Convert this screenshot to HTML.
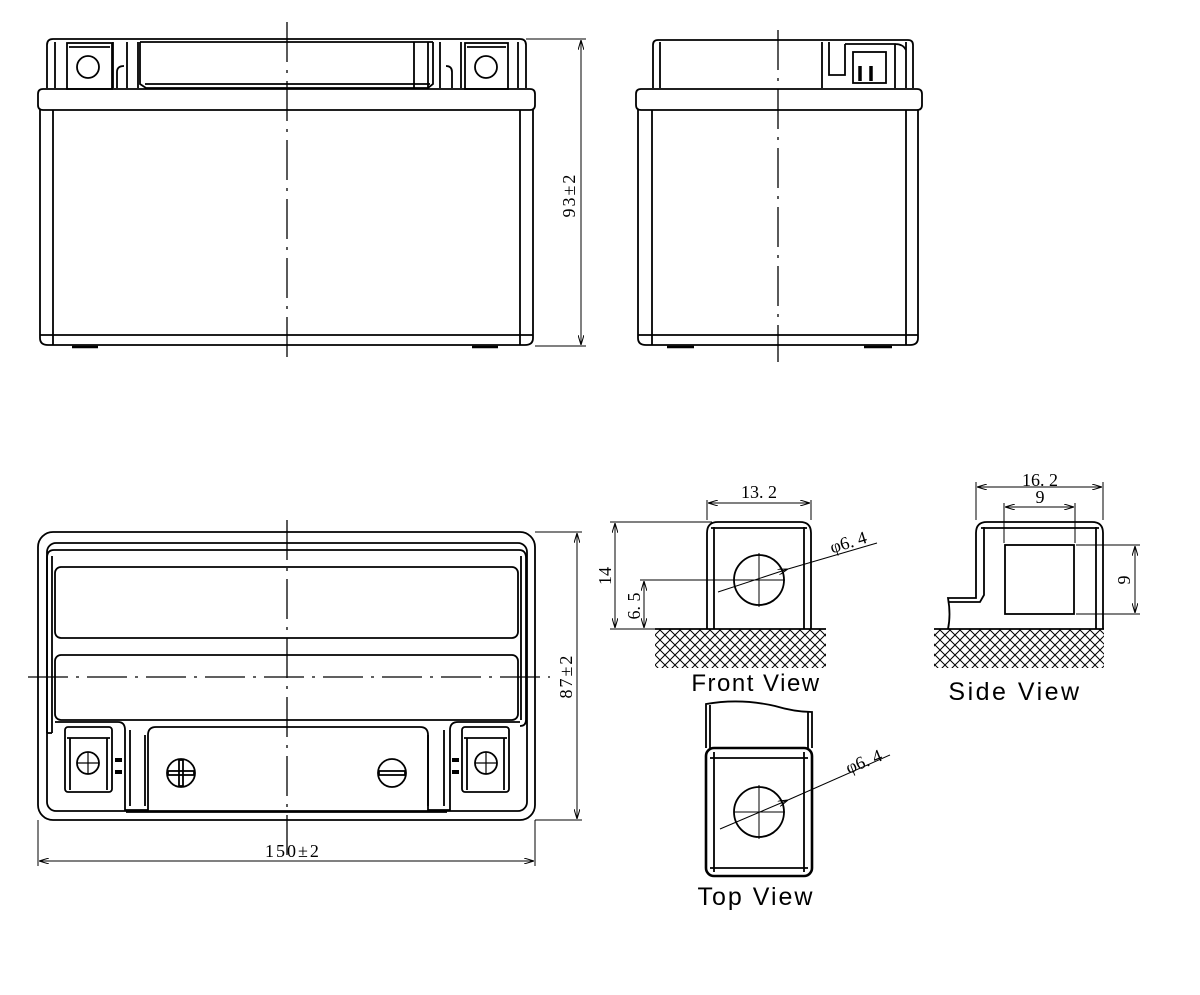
<!DOCTYPE html>
<html><head><meta charset="utf-8"><style>
html,body{margin:0;padding:0;background:#fff}
svg{display:block}
text{font-family:"Liberation Serif",serif;fill:#000}
.s{font-family:"Liberation Sans",sans-serif}
.d{font-size:18px;letter-spacing:2px}
</style></head><body>
<svg width="1200" height="995" viewBox="0 0 1200 995" xmlns="http://www.w3.org/2000/svg">
<defs>
<pattern id="h" width="10" height="10" patternUnits="userSpaceOnUse">
<path d="M0 0L10 10M10 0L0 10" stroke="#000" stroke-width="1"/>
</pattern>
<marker id="a" viewBox="0 0 10 6" refX="10" refY="3" markerWidth="10" markerHeight="6" orient="auto-start-reverse"><path d="M0 0L10 3L0 6" fill="none" stroke="#000" stroke-width="1"/></marker>
</defs>
<g fill="none" stroke="#000" stroke-width="1.8">
<!-- FRONT VIEW -->
<path d="M47 88V45Q47 39 53 39H520Q526 39 526 45V88"/>
<line x1="55" y1="42" x2="55" y2="88"/><line x1="518" y1="42" x2="518" y2="88"/>
<rect x="67" y="43" width="45" height="46"/><line x1="69" y1="47" x2="110" y2="47"/>
<circle cx="88" cy="67" r="11"/>
<rect x="465" y="43" width="43" height="46"/><line x1="467" y1="47" x2="506" y2="47"/>
<circle cx="486" cy="67" r="11"/>
<path d="M113 88V42M127 88V42M138 88V42"/>
<path d="M117 88V72Q117 66 124 66"/>
<path d="M414 88V42M440 88V42M461 88V42M428 42V88"/>
<path d="M452 88V72Q452 66 446 66"/>
<path d="M140 42V84L146 88H428L433 84V42"/><line x1="145" y1="84" x2="430" y2="84"/>
<line x1="140" y1="42" x2="433" y2="42"/>
<path d="M38 105V94Q38 89 43 89H530Q535 89 535 94V105Q535 110 530 110H43Q38 110 38 105Z"/>
<path d="M40 110V338Q40 345 48 345H525Q533 345 533 338V110"/>
<line x1="53" y1="110" x2="53" y2="345"/><line x1="520" y1="110" x2="520" y2="345"/>
<line x1="40" y1="335" x2="533" y2="335"/>
<path d="M72 347H98M472 347H498" stroke-width="2.5"/>
<!-- SIDE VIEW -->
<path d="M653 88V45Q653 40 658 40H908Q913 40 913 45V88"/>
<line x1="660" y1="42" x2="660" y2="88"/><line x1="906" y1="42" x2="906" y2="88"/>
<path d="M822 88V42M829 42V75H845V44"/>
<path d="M845 44H895V88M895 44Q903 44 906 50"/>
<rect x="853" y="52" width="33" height="31"/>
<path d="M860 81V66M871 81V66" stroke-width="3.5"/>
<path d="M636 105V94Q636 89 641 89H917Q922 89 922 94V105Q922 110 917 110H641Q636 110 636 105Z"/>
<path d="M638 110V338Q638 345 646 345H910Q918 345 918 338V110"/>
<line x1="652" y1="110" x2="652" y2="345"/><line x1="906" y1="110" x2="906" y2="345"/>
<line x1="638" y1="335" x2="918" y2="335"/>
<path d="M667 347H694M864 347H892" stroke-width="2.5"/>
<!-- TOP VIEW -->
<rect x="38" y="532" width="497" height="288" rx="15"/>
<rect x="47" y="543" width="480" height="268" rx="9"/>
<path d="M47 733V558Q47 550 54 550H519Q526 550 526 558V720Q526 726 520 726"/>
<path d="M52 733V556M521 556V720"/>
<line x1="47" y1="733" x2="52" y2="733"/>
<rect x="55" y="567" width="463" height="71" rx="6"/>
<rect x="55" y="655" width="463" height="65" rx="6"/>
<path d="M55 722H118Q125 722 125 730V810H148V735Q148 727 156 727H420Q428 727 428 735V810H450V730Q450 722 458 722H520"/>
<path d="M130 730V806M145 735V806M428 806V735M444 730V806"/>
<path d="M126 812H447"/>
<rect x="65" y="727" width="47" height="65" rx="3"/><line x1="67" y1="738" x2="110" y2="738"/>
<path d="M70 738V790M107 738V790"/>
<circle cx="88" cy="763" r="11"/><path d="M77 763H99M88 752V774" stroke-width="1.2"/>
<rect x="462" y="727" width="47" height="65" rx="3"/><line x1="464" y1="738" x2="507" y2="738"/>
<path d="M467 738V790M504 738V790"/>
<circle cx="486" cy="763" r="11"/><path d="M475 763H497M486 752V774" stroke-width="1.2"/>
<circle cx="181" cy="773" r="14"/><rect x="168" y="771" width="26" height="4"/><rect x="179" y="760" width="4" height="26"/>
<circle cx="392" cy="773" r="14"/><rect x="379" y="771" width="26" height="4"/>
<path d="M115 760H122M115 772H122M452 760H459M452 772H459" stroke-width="4"/>
</g>
<!-- center lines -->
<g stroke="#000" stroke-width="1.3" fill="none" stroke-dasharray="40 8 3 8">
<line x1="287" y1="22" x2="287" y2="362"/>
<line x1="778" y1="30" x2="778" y2="362"/>
<line x1="287" y1="520" x2="287" y2="860"/>
<line x1="28" y1="677" x2="550" y2="677"/>
</g>
<!-- dimensions -->
<g stroke="#000" stroke-width="1" fill="none">
<line x1="526" y1="39" x2="586" y2="39"/><line x1="535" y1="346" x2="586" y2="346"/>
<line x1="581" y1="40" x2="581" y2="345" marker-start="url(#a)" marker-end="url(#a)"/>
<line x1="535" y1="532" x2="582" y2="532"/><line x1="535" y1="820" x2="582" y2="820"/>
<line x1="577" y1="533" x2="577" y2="819" marker-start="url(#a)" marker-end="url(#a)"/>
<line x1="38" y1="820" x2="38" y2="866"/><line x1="535" y1="820" x2="535" y2="866"/>
<line x1="39" y1="861" x2="534" y2="861" marker-start="url(#a)" marker-end="url(#a)"/>
</g>
<text class="d" x="575" y="195" text-anchor="middle" transform="rotate(-90 575 195)">93±2</text>
<text class="d" x="572" y="676" text-anchor="middle" transform="rotate(-90 572 676)">87±2</text>
<text class="d" x="293" y="857" text-anchor="middle">150±2</text>
<!-- FRONT VIEW detail -->
<rect x="655" y="629" width="171" height="39" fill="url(#h)"/>
<g fill="none" stroke="#000" stroke-width="1.8">
<path d="M707 629V533Q707 522 718 522H800Q811 522 811 533V629"/>
<path d="M714 629V527M804 629V527M711 528H807"/>
<line x1="655" y1="629" x2="826" y2="629"/>
<circle cx="759" cy="580" r="25"/>
</g>
<g fill="none" stroke="#000" stroke-width="1">
<path d="M759 553V607M730 580H734M734 580H785"/>
<line x1="707" y1="500" x2="707" y2="520"/><line x1="811" y1="500" x2="811" y2="520"/>
<line x1="708" y1="503" x2="810" y2="503" marker-start="url(#a)" marker-end="url(#a)"/>
<line x1="610" y1="522" x2="712" y2="522"/><line x1="610" y1="629" x2="655" y2="629"/>
<line x1="615" y1="523" x2="615" y2="628" marker-start="url(#a)" marker-end="url(#a)"/>
<line x1="640" y1="580" x2="735" y2="580"/>
<line x1="644" y1="581" x2="644" y2="628" marker-start="url(#a)" marker-end="url(#a)"/>
<line x1="718" y1="592" x2="788" y2="569" marker-end="url(#a)"/>
<line x1="788" y1="569" x2="877" y2="543"/>
</g>
<text x="759" y="498" font-size="18" text-anchor="middle">13. 2</text>
<text x="611" y="576" font-size="18" text-anchor="middle" transform="rotate(-90 611 576)">14</text>
<text x="640" y="606" font-size="18" text-anchor="middle" transform="rotate(-90 640 606)">6. 5</text>
<text x="850" y="548" font-size="18" text-anchor="middle" transform="rotate(-17 850 548)">φ6. 4</text>
<text class="s" x="756" y="691" font-size="24" letter-spacing="1.5" text-anchor="middle">Front View</text>
<!-- SIDE VIEW detail -->
<rect x="934" y="629" width="170" height="39" fill="url(#h)"/>
<g fill="none" stroke="#000" stroke-width="1.8">
<path d="M948 629Q951 615 948 598H976V533Q976 522 987 522H1092Q1103 522 1103 533V629"/>
<path d="M984 527V595L980 602H949M1096 527V629M981 528H1099"/>
<line x1="934" y1="629" x2="1104" y2="629"/>
<rect x="1005" y="545" width="69" height="69"/>
</g>
<g fill="none" stroke="#000" stroke-width="1">
<line x1="976" y1="482" x2="976" y2="520"/><line x1="1103" y1="482" x2="1103" y2="520"/>
<line x1="977" y1="487" x2="1102" y2="487" marker-start="url(#a)" marker-end="url(#a)"/>
<line x1="1004" y1="503" x2="1004" y2="543"/><line x1="1075" y1="503" x2="1075" y2="543"/>
<line x1="1005" y1="507" x2="1074" y2="507" marker-start="url(#a)" marker-end="url(#a)"/>
<line x1="1076" y1="545" x2="1140" y2="545"/><line x1="1076" y1="614" x2="1140" y2="614"/>
<line x1="1135" y1="546" x2="1135" y2="613" marker-start="url(#a)" marker-end="url(#a)"/>
</g>
<text x="1040" y="486" font-size="18" text-anchor="middle">16. 2</text>
<text x="1040" y="503" font-size="18" text-anchor="middle">9</text>
<text x="1130" y="580" font-size="18" text-anchor="middle" transform="rotate(-90 1130 580)">9</text>
<text class="s" x="1015" y="700" font-size="25" letter-spacing="2.5" text-anchor="middle">Side View</text>
<!-- TOP VIEW detail -->
<g fill="none" stroke="#000" stroke-width="1.8">
<path d="M706 748V704Q740 698 775 706Q795 712 812 712V748"/>
<path d="M710 748V705M808 748V712"/>
<rect x="706" y="748" width="106" height="128" rx="8" stroke-width="2.6"/>
<path d="M714 752V872M804 752V872M710 758H808M710 868H808"/>
<circle cx="759" cy="812" r="25"/>
</g>
<g fill="none" stroke="#000" stroke-width="1">
<path d="M759 785V839M734 812H785"/>
<line x1="720" y1="829" x2="788" y2="800" marker-end="url(#a)"/>
<line x1="788" y1="800" x2="890" y2="755"/>
</g>
<text x="866" y="767" font-size="18" text-anchor="middle" transform="rotate(-22 866 767)">φ6. 4</text>
<text class="s" x="756" y="905" font-size="25" letter-spacing="2" text-anchor="middle">Top View</text>
</svg>
</body></html>
